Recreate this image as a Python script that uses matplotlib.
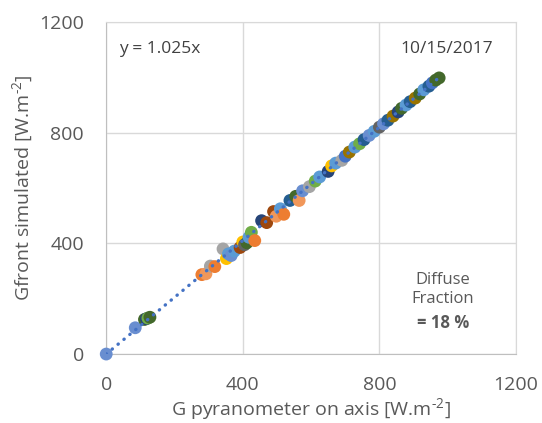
import numpy as np
import matplotlib
matplotlib.use("Agg")
import matplotlib.pyplot as plt

plt.rcParams['font.family'] = ['Open Sans', 'DejaVu Sans']
plt.rcParams['mathtext.fontset'] = 'custom'
plt.rcParams['mathtext.rm'] = 'Open Sans'
plt.rcParams['mathtext.it'] = 'Open Sans'

# measured irradiance (x) and simulated front irradiance (y), W/m2
g_pyr = [0, 85, 112, 118, 122, 128, 280, 292, 305, 318, 342, 352, 358, 366, 375,
         392, 400, 405, 412, 418, 425, 435, 455, 470, 490, 498, 510, 520, 538, 555,
         565, 575, 595, 612, 625, 650, 660, 672, 690, 700, 712, 728, 742, 755, 770,
         785, 800, 812, 825, 840, 855, 865, 878, 890, 905, 918, 930, 945, 955, 965, 975]
g_front = [0, 95, 125, 128, 130, 133, 287, 290, 318, 316, 380, 345, 362, 356, 372,
           385, 405, 395, 402, 422, 440, 410, 482, 475, 515, 498, 525, 505, 555, 570,
           555, 590, 605, 625, 640, 660, 680, 690, 700, 715, 730, 748, 760, 775, 790,
           805, 820, 832, 845, 860, 875, 888, 900, 912, 925, 940, 955, 968, 980, 990, 998]
point_colors = ['#698ED0', '#698ED0', '#43682B', '#264478', '#70AD47', '#43682B',
                '#ED7D31', '#F1975A', '#A5A5A5', '#ED7D31', '#A5A5A5', '#FFC000',
                '#5B9BD5', '#698ED0', '#5B9BD5', '#9E480E', '#FFC000', '#636363',
                '#43682B', '#5B9BD5', '#70AD47', '#ED7D31', '#264478', '#9E480E',
                '#9E480E', '#F1975A', '#5B9BD5', '#ED7D31', '#255E91', '#43682B',
                '#F1975A', '#698ED0', '#A5A5A5', '#70AD47', '#5B9BD5', '#264478',
                '#FFC000', '#5B9BD5', '#A5A5A5', '#4472C4', '#997300', '#5B9BD5',
                '#70AD47', '#255E91', '#698ED0', '#5B9BD5', '#636363', '#698ED0',
                '#255E91', '#997300', '#264478', '#43682B', '#5B9BD5', '#255E91',
                '#997300', '#43682B', '#5B9BD5', '#255E91', '#4472C4', '#43682B',
                '#43682B']
slope = 1.025
ticks = [0, 400, 800, 1200]

fig = plt.figure(figsize=(5.42, 4.23), dpi=100)
ax = fig.add_axes([0.196, 0.163, 0.756, 0.785])

ax.grid(True, color='#D9D9D9', linewidth=1)
ax.set_axisbelow(True)

ax.scatter(g_pyr, g_front, s=85, c=point_colors, edgecolors='none', zorder=3,
           clip_on=False)

# linear trendline through origin
xl = np.array([0, max(g_pyr)])
ax.plot(xl, slope * xl, color='#4472C4', linestyle=(0, (0.1, 2.2)),
        linewidth=2.4, dash_capstyle='round', zorder=4)

ax.set_xlim(0, 1200)
ax.set_ylim(0, 1200)
ax.set_xticks(ticks)
ax.set_yticks(ticks)
ax.tick_params(length=0, labelsize=14, colors='#595959')
ax.tick_params(axis='y', pad=16)
ax.tick_params(axis='x', pad=16)

for s in ax.spines.values():
    s.set_color('#D9D9D9')
ax.spines['left'].set_color('#BFBFBF')
ax.spines['bottom'].set_color('#BFBFBF')

ax.set_xlabel('G pyranometer on axis [W.m$^{\u2010 2}$]', fontsize=14, color='#595959', labelpad=1)
ax.set_ylabel('Gfront simulated [W.m$^{\u2010 2}$]', fontsize=14, color='#595959', labelpad=3)

ax.text(158, 1103, 'y = 1.025x', ha='center', va='center', fontsize=12.5, color='#404040')
ax.text(998, 1103, '10/15/2017', ha='center', va='center', fontsize=12.5, color='#404040')
ax.text(986, 232, 'Diffuse\nFraction', ha='center', va='center', fontsize=12,
        color='#595959', linespacing=1.25)
ax.text(986, 112, '= 18 %', ha='center', va='center', fontsize=12,
        color='#595959', fontweight='bold')

fig.savefig('out.png', dpi=100)
